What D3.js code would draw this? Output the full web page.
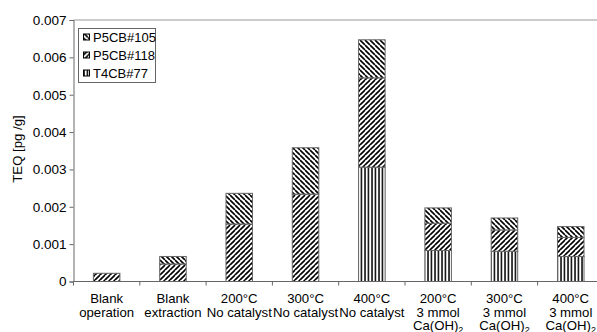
<!DOCTYPE html>
<html>
<head>
<meta charset="utf-8">
<script src="https://cdn.jsdelivr.net/npm/d3@7"></script>
<style>
  body { margin: 0; background: #fff; }
  text { font-family: "Liberation Sans", Arial, sans-serif; fill: #000; }
</style>
</head>
<body>
<div id="chart"></div>
<script>
// categories, one entry per line of the label
const categories = [
  ['Blank', 'operation'],
  ['Blank', 'extraction'],
  ['200°C', 'No catalyst'],
  ['300°C', 'No catalyst'],
  ['400°C', 'No catalyst'],
  ['200°C', '3 mmol', 'Ca(OH)2'],
  ['300°C', '3 mmol', 'Ca(OH)2'],
  ['400°C', '3 mmol', 'Ca(OH)2']
];
const t4cb77  = [0, 0, 0, 0, 0.00306, 0.00083, 0.00081, 0.00067];
const p5cb118 = [0.00022, 0.00047, 0.00154, 0.00234, 0.00239, 0.00073, 0.00057, 0.00051];
const p5cb105 = [0, 0.00020, 0.00082, 0.00124, 0.00102, 0.00041, 0.00032, 0.00029];
const yTicks = [0, 0.001, 0.002, 0.003, 0.004, 0.005, 0.006, 0.007];
const seriesKeys = ['T4CB#77', 'P5CB#118', 'P5CB#105'];
const legendKeys = ['P5CB#105', 'P5CB#118', 'T4CB#77'];

const width = 597, height = 332;
const plotLeft = 73.5, plotTop = 20, plotBottom = 281.5;
const step = 66.3;
const plotRight = plotLeft + step * categories.length;

const svg = d3.select('#chart').append('svg')
  .attr('width', width)
  .attr('height', height);

// hatch patterns
const defs = svg.append('defs');
const pat = (id, w, draw) => {
  const p = defs.append('pattern')
    .attr('id', id)
    .attr('patternUnits', 'userSpaceOnUse')
    .attr('width', w).attr('height', w);
  p.append('rect').attr('width', w).attr('height', w).attr('fill', '#fff');
  draw(p, w);
};
pat('h105', 5, (p, w) => {
  p.append('path').attr('d', `M0,0L${w},${w}M${-w},0L0,${w}M${w},${-w}L${2 * w},${w}M0,${-w}L${w},0`)
    .attr('stroke', '#000').attr('stroke-width', 1.6);
});
pat('h118', 5, (p, w) => {
  p.append('path').attr('d', `M0,${w}L${w},0M${-w},${w}L0,0M${w},${w}L${2 * w},0M0,${2 * w}L${w},${w}`)
    .attr('stroke', '#000').attr('stroke-width', 1.6);
});
pat('h77', 3.5, (p, w) => {
  p.append('path').attr('d', `M1,0V${w}`)
    .attr('stroke', '#000').attr('stroke-width', 1.5);
});
const fills = { 'P5CB#105': 'url(#h105)', 'P5CB#118': 'url(#h118)', 'T4CB#77': 'url(#h77)' };

const x = d3.scaleBand()
  .domain(d3.range(categories.length))
  .range([plotLeft, plotRight])
  .paddingInner(0.6)
  .paddingOuter(0.3);

const y = d3.scaleLinear()
  .domain([0, 0.007])
  .range([plotBottom, plotTop]);

// frame top line
svg.append('line')
  .attr('x1', plotLeft).attr('x2', width)
  .attr('y1', plotTop).attr('y2', plotTop)
  .attr('stroke', '#999').attr('stroke-width', 1);

const table = categories.map((c, i) => ({
  i,
  'T4CB#77': t4cb77[i],
  'P5CB#118': p5cb118[i],
  'P5CB#105': p5cb105[i]
}));
const stacked = d3.stack().keys(seriesKeys)(table);

svg.append('g').selectAll('g')
  .data(stacked)
  .join('g')
  .attr('fill', d => fills[d.key])
  .selectAll('rect')
  .data(d => d.filter(s => s[1] - s[0] > 0))
  .join('rect')
  .attr('x', d => x(d.data.i))
  .attr('width', x.bandwidth())
  .attr('y', d => y(d[1]))
  .attr('height', d => y(d[0]) - y(d[1]))
  .attr('stroke', '#666')
  .attr('stroke-width', 1);

// y axis
const yAxis = svg.append('g')
  .attr('transform', `translate(${plotLeft},0)`)
  .call(d3.axisLeft(y).tickValues(yTicks).tickSize(4).tickPadding(3)
    .tickFormat(d => d === 0 ? '0' : d3.format('.3f')(d)));
yAxis.select('.domain').attr('stroke', '#666');
yAxis.selectAll('line').attr('stroke', '#666');
yAxis.selectAll('text').style('font-size', '13.5px')
  .style('font-family', '"Liberation Sans", Arial, sans-serif');

// x axis
const xAxis = svg.append('g');
xAxis.append('line')
  .attr('x1', plotLeft).attr('x2', width)
  .attr('y1', plotBottom).attr('y2', plotBottom)
  .attr('stroke', '#666');
xAxis.selectAll('.tick')
  .data(d3.range(categories.length + 1))
  .join('line')
  .attr('x1', i => plotLeft + i * x.step())
  .attr('x2', i => plotLeft + i * x.step())
  .attr('y1', plotBottom).attr('y2', plotBottom + 4)
  .attr('stroke', '#666');

const labels = svg.append('g').selectAll('text')
  .data(categories)
  .join('text')
  .attr('text-anchor', 'middle')
  .style('font-size', '13.2px');
labels.each(function (lines, i) {
  const t = d3.select(this);
  const cx = x(i) + x.bandwidth() / 2;
  lines.forEach((ln, k) => {
    const ts = t.append('tspan').attr('x', cx).attr('y', 303 + k * 13.5);
    if (ln.startsWith('Ca(OH)')) {
      ts.text('Ca(OH)');
      t.append('tspan').attr('dy', 3).style('font-size', '9px').text('2');
    } else {
      ts.text(ln);
    }
  });
});

// y label
svg.append('text')
  .attr('transform', 'translate(22,149) rotate(-90)')
  .attr('text-anchor', 'middle')
  .style('font-size', '13.2px')
  .text('TEQ [pg /g]');

// legend
const lg = svg.append('g');
lg.append('rect')
  .attr('x', 78.5).attr('y', 28.5)
  .attr('width', 77).attr('height', 54)
  .attr('fill', '#fff').attr('stroke', '#666');
const li = lg.selectAll('g.item')
  .data(legendKeys)
  .join('g')
  .attr('transform', (d, i) => `translate(83,${37.5 + i * 18})`);
li.append('rect')
  .attr('x', 0.5).attr('y', -3.5)
  .attr('width', 6).attr('height', 6)
  .attr('fill', d => fills[d])
  .attr('stroke', '#000');
li.append('text')
  .attr('x', 10).attr('y', 4.5)
  .style('font-size', '13px')
  .text(d => d);
</script>
</body>
</html>
